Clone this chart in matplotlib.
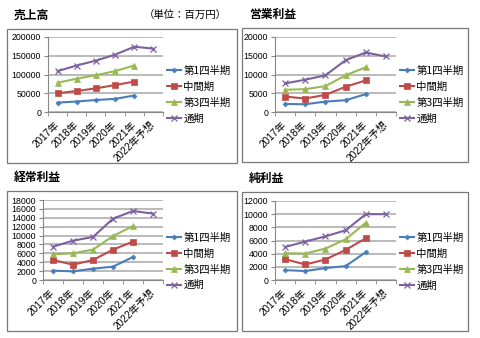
import matplotlib.pyplot as plt
from matplotlib.patches import Rectangle

plt.rcParams['font.family'] = ['Liberation Sans', 'Noto Sans CJK JP', 'DejaVu Sans']

years = ['2017年', '2018年', '2019年', '2020年', '2021年', '2022年予想']
series_names = ['第1四半期', '中間期', '第3四半期', '通期']

sales_q1 = [25000, 28000, 32000, 35000, 44000]
sales_half = [50000, 56000, 63000, 72000, 81000]
sales_q3 = [78000, 89000, 98000, 109000, 124000]
sales_full = [109000, 124000, 137000, 153000, 174000, 169000]

op_q1 = [2150, 2060, 2780, 3140, 4750]
op_half = [4120, 3590, 4570, 6730, 8430]
op_q3 = [5920, 6100, 6900, 9780, 11930]
op_full = [7620, 8610, 9780, 13810, 15870, 14800]

ord_q1 = [2100, 1950, 2550, 3000, 5180]
ord_half = [4500, 3450, 4500, 6830, 8630]
ord_q3 = [5780, 6000, 6830, 9900, 12150]
ord_full = [7500, 8850, 9680, 13800, 15530, 14930]

net_q1 = [1500, 1360, 1810, 2110, 4220]
net_half = [3160, 2360, 3110, 4570, 6330]
net_q3 = [4070, 4020, 4770, 6180, 8690]
net_full = [5020, 5830, 6630, 7540, 10000, 10000]

colors = ['#4A7EBB', '#BE4B48', '#98B954', '#7D60A0']
markers = ['D', 's', '^', 'x']
msizes = [2.5, 4.2, 4.2, 4]

W, H = 480, 338
fig = plt.figure(figsize=(4.8, 3.38), dpi=100)


def px(x0, y0, x1, y1):
    return [x0 / W, 1 - y1 / H, (x1 - x0) / W, (y1 - y0) / H]


def panel(frame, plot, title, data, ymax, ystep):
    fx0, fy0, fx1, fy1 = frame
    fig.patches.append(Rectangle((fx0 / W, 1 - fy1 / H), (fx1 - fx0) / W, (fy1 - fy0) / H,
                                 transform=fig.transFigure, fill=False,
                                 edgecolor='#777777', linewidth=0.9))
    fig.text((fx0 + 7) / W, 1 - (fy0 - 14) / H, title, fontsize=8.5, fontweight='bold',
             family=['Noto Sans CJK JP'], va='center')
    ax = fig.add_axes(px(*plot))
    for i, vals in enumerate(data):
        ax.plot(range(len(vals)), vals, color=colors[i], marker=markers[i],
                markersize=msizes[i], linewidth=1.5, label=series_names[i],
                markeredgewidth=0.9 if markers[i] == 'x' else 0.5)
    ax.set_xlim(-0.5, 5.5)
    ax.set_ylim(0, ymax)
    ax.set_yticks(range(0, ymax + 1, ystep))
    ax.yaxis.grid(True, color='#B4B4B4', linewidth=1.3)
    ax.set_axisbelow(True)
    ax.set_xticks(range(6))
    ax.set_xticklabels(years, rotation=45, ha='right', va='center', rotation_mode='anchor',
                       fontsize=7.3)
    ax.set_xticks([x - 0.5 for x in range(7)], minor=True)
    ax.tick_params(axis='x', which='major', length=0, pad=8)
    ax.tick_params(axis='x', which='minor', length=3, color='#888888')
    ax.tick_params(axis='y', length=3, color='#888888', labelsize=6.3, pad=2)
    for s in ['top', 'right']:
        ax.spines[s].set_visible(False)
    for s in ['left', 'bottom']:
        ax.spines[s].set_color('#888888')
        ax.spines[s].set_linewidth(0.8)
    w = plot[2] - plot[0]
    ax.legend(loc='center left', bbox_to_anchor=(1 + 4 / w, 0.23), frameon=False,
              handlelength=1.3, handletextpad=0.25, labelspacing=0.55,
              borderaxespad=0, borderpad=0,
              prop={'family': ['Noto Sans CJK JP'], 'size': 7.5})
    return ax


panel((7, 29, 237, 163), (48, 37, 163, 112), '売上高',
      [sales_q1, sales_half, sales_q3, sales_full], 200000, 50000)
fig.text(144 / W, 1 - 15 / H, '（単位：百万円）', fontsize=7.5, family=['Noto Sans CJK JP'], va='center')
panel((242, 28, 468, 162), (275, 37, 396, 112), '営業利益',
      [op_q1, op_half, op_q3, op_full], 20000, 5000)
panel((7, 191, 237, 331), (43, 200, 163, 280), '経常利益',
      [ord_q1, ord_half, ord_q3, ord_full], 18000, 2000)
panel((242, 192, 468, 331), (275, 201, 396, 280), '純利益',
      [net_q1, net_half, net_q3, net_full], 12000, 2000)

fig.savefig('out.png', dpi=100)
